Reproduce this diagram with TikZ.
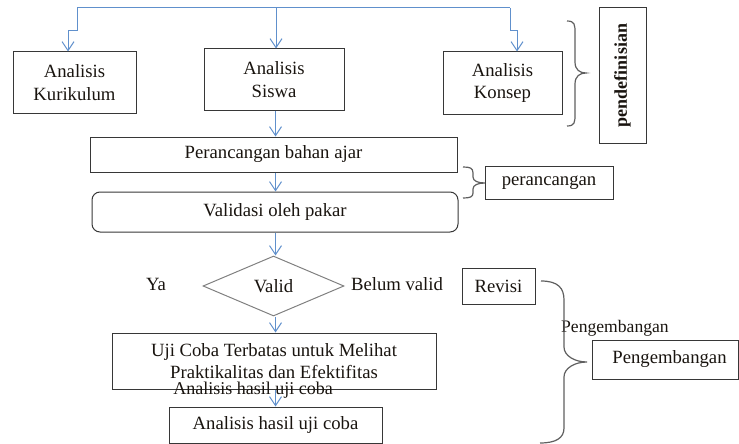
\documentclass[tikz,border=0pt]{standalone}
\usepackage{fontspec}
\setmainfont{Liberation Serif}
\usetikzlibrary{arrows.meta,shapes.geometric}
\definecolor{arr}{RGB}{96,144,204}
\definecolor{edge}{RGB}{55,55,55}
\definecolor{brc}{RGB}{95,95,95}
\definecolor{ink}{RGB}{25,20,15}
\begin{document}
\begin{tikzpicture}[x=1pt,y=-1pt,
  font=\fontsize{18.7}{22.5}\selectfont, text=ink,
  box/.style={draw=edge, line width=1pt, inner sep=0pt, align=center},
  arrowline/.style={draw=arr, line width=1pt, -{Straight Barb[length=9pt,width=12pt]}},
  plainline/.style={draw=arr, line width=1pt},
  bracepath/.style={draw=brc, line width=1.2pt},
  lbl/.style={inner sep=0pt}]
\useasboundingbox (0,0) rectangle (739,444);

% top row
\node[box, minimum width=123pt, minimum height=61pt] (kur) at (74.5,82.5) {Analisis\\Kurikulum};
\node[box, minimum width=140pt, minimum height=61pt] (sis) at (274,79.5) {Analisis\\Siswa};
\node[box, minimum width=119pt, minimum height=62pt] (kon) at (502.5,83) {Analisis\\Konsep};
\node[box, rotate=90, minimum width=135pt, minimum height=47pt,
      font=\fontsize{18}{20}\selectfont\bfseries] (pdef) at (622.5,75.5) {pendefinisian};

% middle
\node[box, minimum width=367pt, minimum height=35pt] (pba) at (273.5,154.5) {Perancangan bahan ajar};
\node[box, rounded corners=8pt, minimum width=366pt, minimum height=40pt] (val) at (275,212) {Validasi oleh pakar};
\node[box, minimum width=128pt, minimum height=33pt] (perc) at (549,182.5) {perancangan};

% decision
\node[diamond, draw=gray, line width=1pt, inner sep=0pt, aspect=2.35,
      minimum width=141pt, minimum height=60pt] (dia) at (273.5,286) {Valid};
\node[lbl] (ya) at (156,284) {Ya};
\node[lbl] (bv) at (397,284) {Belum valid};
\node[box, minimum width=73pt, minimum height=36pt] (rev) at (498.5,286) {Revisi};

% bottom
\node[box, minimum width=324pt, minimum height=56pt] (uji) at (274,361)
  {Uji Coba Terbatas untuk Melihat\\Praktikalitas dan Efektifitas};
\node[lbl, anchor=base, font=\fontsize{18}{21}\selectfont] (ahl) at (253,394) {Analisis hasil uji coba};
\node[box, minimum width=213pt, minimum height=36pt] (ahu) at (275.5,425) {Analisis hasil uji coba};
\node[box, minimum width=146pt, minimum height=39pt] (peng) at (665,359.5) {\hspace*{9pt}Pengembangan};
\node[lbl, anchor=base west, font=\fontsize{17.6}{21}\selectfont] (pengl) at (561,332) {Pengembangan};

% top connectors
\coordinate (tl) at (77,8);
\coordinate (tm) at (276,8);
\coordinate (tr) at (510,8);
\coordinate (kl) at (68,31);
\coordinate (kr) at (517,31);
\coordinate (ax) at (275.5,0);
\draw[plainline] (tl) -- (tr);
\draw[arrowline] (tl) -- (tl |- kl) -- (kl) -- (kur.north -| kl);
\draw[arrowline] (tm) -- (tm |- sis.north);
\draw[arrowline] (tr) -- (tr |- kr) -- (kr) -- (kon.north -| kr);

% vertical flow
\draw[arrowline] (sis.south -| ax) -- (pba.north -| ax);
\draw[arrowline] (pba.south -| ax) -- (val.north -| ax);
\draw[arrowline] (val.south -| ax) -- (dia.north -| ax);
\draw[arrowline] (dia.south -| ax) -- (uji.north -| ax);
\draw[arrowline] (uji.south -| ax) -- (ahu.north -| ax);

% braces
\draw[bracepath] (567,21) .. controls (575,21) and (575,25) .. (575,33) -- (575,62)
  .. controls (575,70) and (580,73) .. (586,73)
  .. controls (580,73) and (575,76) .. (575,84) -- (575,114)
  .. controls (575,122) and (575,126) .. (567,126);
\draw[bracepath] (463,167) .. controls (470,167) and (473,168) .. (473,173) -- (473,177)
  .. controls (473,181) and (478,183) .. (485,183)
  .. controls (478,183) and (473,185) .. (473,189) -- (473,193)
  .. controls (473,197) and (470,198) .. (463,198);
\draw[bracepath] (541,281) .. controls (558,281) and (564,288) .. (564,300) -- (564,347)
  .. controls (564,356) and (575,362) .. (587,362)
  .. controls (575,362) and (564,368) .. (564,377) -- (564,428)
  .. controls (564,438) and (556,443) .. (540,443);
\end{tikzpicture}
\end{document}
